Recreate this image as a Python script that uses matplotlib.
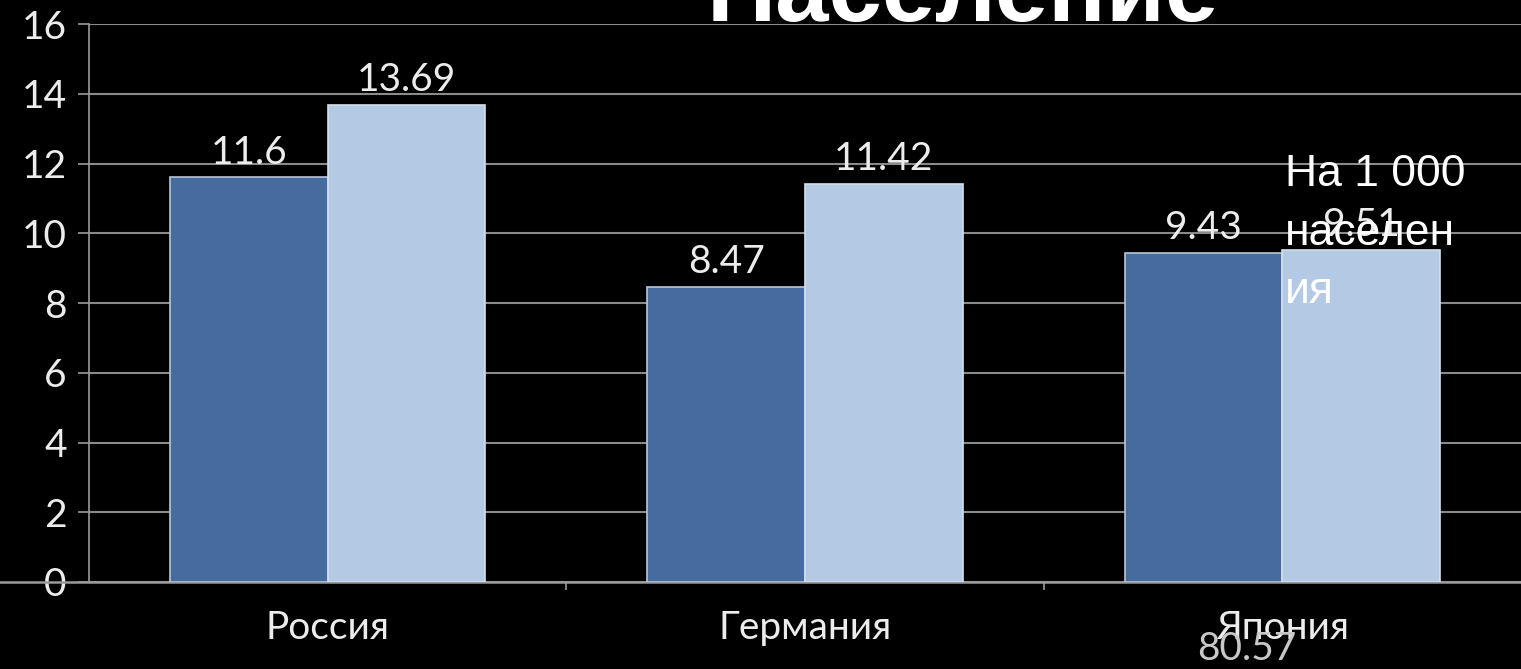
import matplotlib
matplotlib.use("Agg")
import matplotlib.pyplot as plt
import numpy as np

categories = ["Россия", "Германия", "Япония"]
series_a = [11.6, 8.47, 9.43]
series_b = [13.69, 11.42, 9.51]
y_ticks = [0, 2, 4, 6, 8, 10, 12, 14, 16]
title = "Население"
note = "На 1 000\nнаселен\nия"
stray_label = "80.57"

W, H = 1521, 669
fig = plt.figure(figsize=(W / 100, H / 100), dpi=100, facecolor="black")
ax = fig.add_axes([89 / W, (H - 582) / H, (W - 89) / W, (582 - 24) / H])
ax.set_facecolor("black")

x = np.arange(len(categories))
bw = 0.33
dark = "#466b9f"
light = "#b4c9e3"
b1 = ax.bar(x - bw / 2, series_a, bw, color=dark, edgecolor="#b9c6d8", linewidth=1.2, zorder=3)
b2 = ax.bar(x + bw / 2, series_b, bw, color=light, edgecolor="#d4deec", linewidth=1.2, zorder=3)

lab_font = dict(family=["Lato", "DejaVu Sans"], size=28, color="#ececec")
ax.bar_label(b1, labels=[f"{v:g}" for v in series_a], padding=5, zorder=4, **lab_font)
ax.bar_label(b2, labels=[f"{v:g}" for v in series_b], padding=5, zorder=4, **lab_font)

ax.set_xlim(-0.5, 2.5)
ax.set_ylim(0, 16)
ax.set_yticks(y_ticks)
ax.set_yticklabels([str(t) for t in y_ticks], fontfamily="Lato", fontsize=28, color="#ececec")
ax.set_xticks(x)
ax.set_xticklabels(categories, fontfamily="Lato", fontsize=28, color="#ececec")
ax.set_xticks([0.5, 1.5], minor=True)
ax.tick_params(axis="x", which="major", length=0, pad=20)
ax.tick_params(axis="x", which="minor", length=6, width=1.2, color="#9a9a9a", direction="out")
ax.tick_params(axis="y", length=8, width=1.2, color="#9a9a9a", pad=8)

ax.yaxis.grid(True, color="#8a8a8a", linewidth=1.5)
ax.set_axisbelow(True)
for s in ["top", "right"]:
    ax.spines[s].set_visible(False)
ax.spines["left"].set_color("#9a9a9a")
ax.spines["left"].set_linewidth(1.2)
ax.spines["bottom"].set_visible(False)
ax.axhline(0, xmin=-89 / (W - 89), xmax=1.0, color="#9a9a9a", linewidth=1.8, clip_on=False, zorder=2)

fig.text(963 / W, 1 - 21 / H, title, ha="center", va="baseline",
         fontfamily="Liberation Sans", fontweight="bold", fontsize=69, color="white")

fig.text(1285 / W, 1 - 154 / H, note, ha="left", va="top",
         fontfamily="Liberation Sans", fontsize=32, color="white", linespacing=1.55, zorder=10)

fig.text(1247 / W, 1 - 649 / H, stray_label, ha="center", va="center",
         fontfamily="Lato", fontsize=28, color="#c8c8c8")

fig.savefig("out.png", dpi=100, facecolor="black")
